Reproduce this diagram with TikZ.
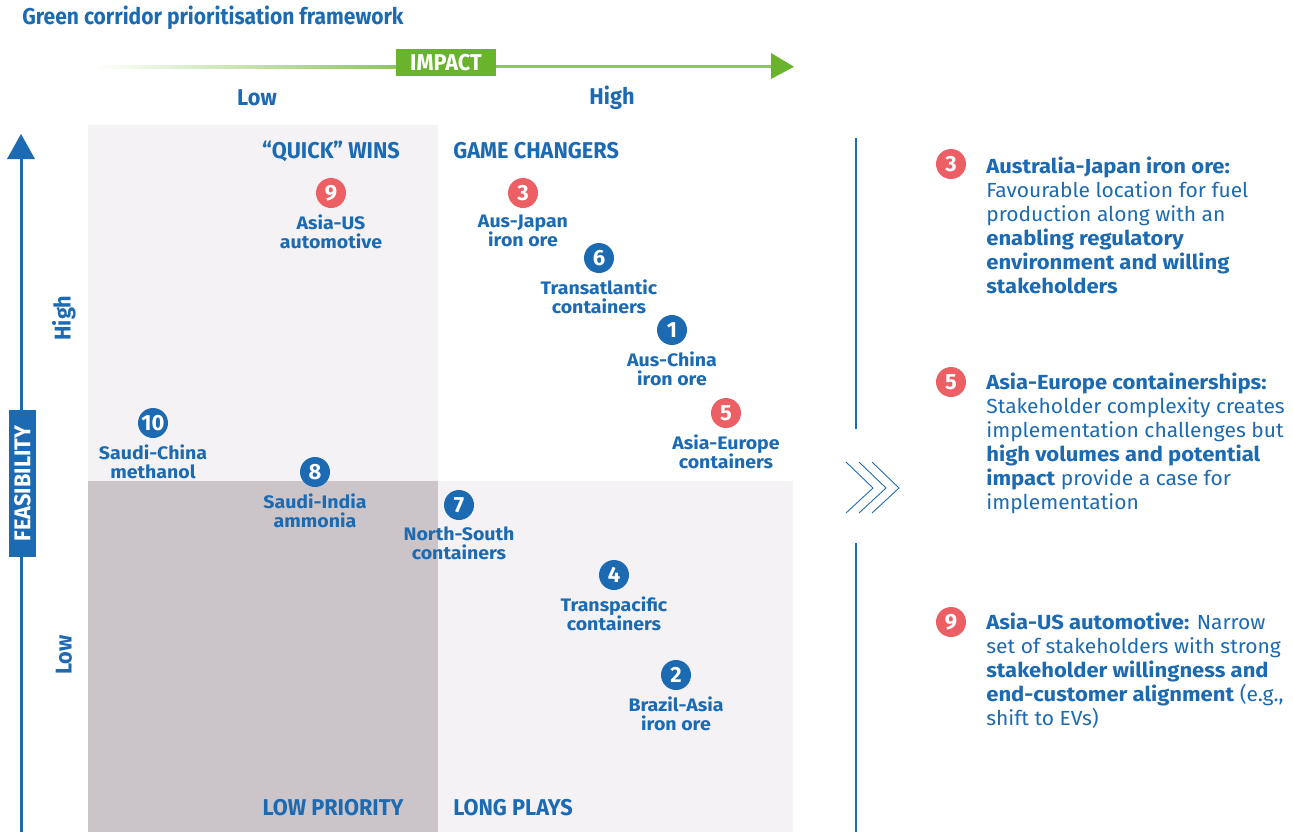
\documentclass[tikz,border=0pt]{standalone}
\usepackage{fontspec}
\setmainfont{Fira Sans}
\newfontfamily\condfont[FakeStretch=0.95]{Fira Sans}
\newfontfamily\titlefont[FakeStretch=0.92]{Fira Sans}
\newfontfamily\widefont[FakeStretch=1.08]{Fira Sans}
\newfontfamily\notefont[FakeStretch=1.03,BoldFeatures={FakeStretch=1.08}]{Fira Sans}
\usetikzlibrary{positioning}

\definecolor{corblue}{RGB}{27,106,178}
\definecolor{corred}{RGB}{236,95,100}
\definecolor{corgreen}{RGB}{106,180,45}
\definecolor{corline}{RGB}{141,198,90}
\definecolor{quadlight}{RGB}{244,242,245}
\definecolor{quaddark}{RGB}{203,197,201}

\tikzset{
  numdot/.style={circle,fill=corblue,text=white,inner sep=0pt,minimum size=6mm,
    font=\bfseries\fontsize{12.5}{12.5}\selectfont},
  reddot/.style={numdot,fill=corred},
  corridor/.style={text=corblue,align=center,inner sep=0pt,
    font=\widefont\bfseries\fontsize{10.3}{10.8}\selectfont},
  quadtitle/.style={text=corblue,inner sep=0pt,
    font=\condfont\bfseries\fontsize{13}{13}\selectfont},
  axislabel/.style={quadtitle},
  notetext/.style={text=corblue,align=left,anchor=north west,inner sep=0pt,
    font=\notefont\fontsize{11.6}{13.6}\selectfont}
}

\begin{document}
\begin{tikzpicture}[x=0.2mm,y=-0.2mm]
  \useasboundingbox (0,0) rectangle (1293,832);

  % quadrants
  \fill[quadlight] (88,125) rectangle (438,481);
  \fill[quaddark] (88,481) rectangle (438,832);
  \fill[quadlight] (438,481) rectangle (793,832);

  \node[anchor=west,text=corblue,inner sep=0pt,
    font=\titlefont\bfseries\fontsize{13}{13}\selectfont] (title) at (22,18)
    {Green corridor prioritisation framework};

  % impact axis
  \shade[left color=white,right color=corline] (95,65) rectangle (396,68.5);
  \draw[corline,line width=0.65mm] (496,66.7) -- (773,66.7);
  \fill[corgreen] (771,53) -- (794,66.7) -- (771,79) -- cycle;
  \node[fill=corgreen,text=white,minimum width=20mm,minimum height=5.4mm,inner sep=0pt,
    font=\condfont\bfseries\fontsize{13}{13}\selectfont] (impact) at (446,62.5) {IMPACT};
  \node[axislabel] (implow) at (257,98) {Low};
  \node[axislabel] (imphigh) at (612,98) {High};

  % feasibility axis
  \draw[corblue,line width=0.6mm] (21,832) -- (21,157);
  \fill[corblue] (7,159) -- (21,134) -- (35,159) -- cycle;
  \node[fill=corblue,text=white,rotate=90,minimum width=29.4mm,minimum height=5.4mm,inner sep=0pt,
    font=\condfont\bfseries\fontsize{13}{13}\selectfont] (feas) at (22.5,483.5) {FEASIBILITY};
  \node[axislabel,rotate=90] (feashigh) at (64,318) {High};
  \node[axislabel,rotate=90] (feaslow) at (64,655) {Low};

  % quadrant titles
  \node[quadtitle] (quick) at (331,151) {“QUICK” WINS};
  \node[quadtitle,anchor=west] (game) at (453,151) {GAME CHANGERS};
  \node[quadtitle] (lowprio) at (333,808) {LOW PRIORITY};
  \node[quadtitle,anchor=west] (longplay) at (453,808) {LONG PLAYS};

  % corridors
  \foreach \n/\x/\y/\s/\t in {
      9/331/193/reddot/{Asia-US\\automotive},
      3/523/193/reddot/{Aus-Japan\\iron ore},
      6/599/258/numdot/{Transatlantic\\containers},
      1/672/330/numdot/{Aus-China\\iron ore},
      5/726/413/reddot/{Asia-Europe\\containers},
      10/153/423/numdot/{Saudi-China\\methanol},
      8/315/472/numdot/{Saudi-India\\ammonia},
      7/459/505/numdot/{North-South\\containers},
      4/614/575/numdot/{Transpacific\\containers},
      2/676/675/numdot/{Brazil-Asia\\iron ore}}{
    \node[\s] (n\n) at (\x,\y) {\n};
    \node[corridor,below=1.3mm of n\n] (t\n) {\t};
  }

  % divider
  \draw[corblue,line width=0.6pt] (856,138) -- (856,429);
  \draw[corblue,line width=0.6pt] (856,543) -- (856,832);
  \foreach \d in {0,13,26}
    \draw[corblue,line width=0.5pt] (846+\d,462) -- (873+\d,488) -- (846+\d,513);

  % notes
  \node[reddot] (m3) at (951,164) {3};
  \node[notetext] (note3) at (986,157) {\textbf{Australia-Japan iron ore:}\\
    Favourable location for fuel\\ production along with an\\
    \textbf{enabling regulatory}\\ \textbf{environment and willing}\\ \textbf{stakeholders}};
  \node[reddot] (m5) at (951,382) {5};
  \node[notetext] (note5) at (986,373) {\textbf{Asia-Europe containerships:}\\
    Stakeholder complexity creates\\ implementation challenges but\\
    \textbf{high volumes and potential}\\ \textbf{impact} provide a case for\\ implementation};
  \node[reddot] (m9) at (951,622) {9};
  \node[notetext] (note9) at (986,613) {\textbf{Asia-US automotive:} Narrow\\
    set of stakeholders with strong\\ \textbf{stakeholder willingness and}\\
    \textbf{end-customer alignment} (e.g.,\\ shift to EVs)};
\end{tikzpicture}
\end{document}
